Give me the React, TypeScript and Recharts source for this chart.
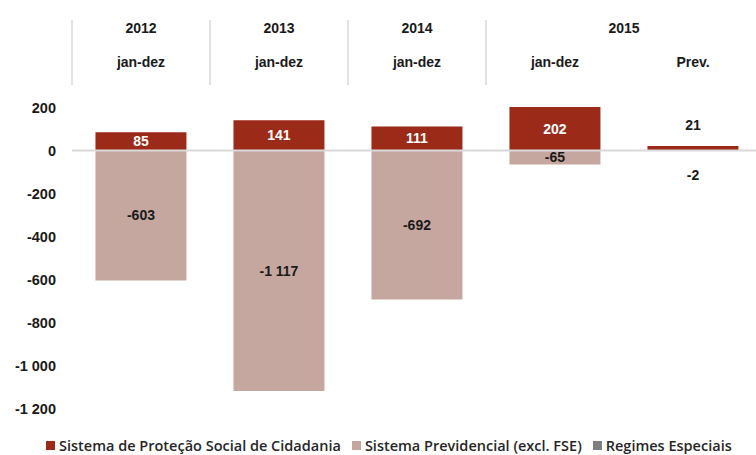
import { BarChart, Bar, XAxis, YAxis, Legend, ReferenceLine, LabelList } from 'recharts'

const categories = ['jan-dez', 'jan-dez', 'jan-dez', 'jan-dez', 'Prev.']
const years = ['2012', '2013', '2014', '2015', '2015']
const cidadania = [85, 141, 111, 202, 21]
const previdencial = [-603, -1117, -692, -65, -2]
const especiais = [0, 0, 0, 0, 0]
const yTicks = [200, 0, -200, -400, -600, -800, -1000, -1200]

const seriesNames = ['Sistema de Proteção Social de Cidadania', 'Sistema Previdencial (excl. FSE)', 'Regimes Especiais']
const COLORS = ['#9c2a18', '#c6a7a0', '#7f7f7f']

const CHART_W = 770
const CHART_H = 455
const MARGIN = { top: 17, right: 8, bottom: 0, left: 0 }
const YAXIS_W = 72
const FONT = '"Liberation Sans", Arial, sans-serif'

const BAND = (CHART_W - MARGIN.left - MARGIN.right - YAXIS_W) / categories.length

const data = categories.map((c, i) => ({
  key: i,
  cat: c,
  year: years[i],
  cidadania: cidadania[i],
  previdencial: previdencial[i],
  especiais: especiais[i],
}))

const fmt = (v: number) => {
  const s = Math.abs(Math.round(v)).toString().replace(/\B(?=(\d{3})+(?!\d))/g, ' ')
  return v < 0 ? '-' + s : s
}

function HeaderTick(props: any) {
  const { x, payload, index } = props
  const i = index ?? payload.index
  const first = i === 0 || years[i] !== years[i - 1]
  let span = 1
  while (years[i + span] === years[i]) span++
  return (
    <g>
      {first && (
        <>
          <line x1={x - BAND / 2} x2={x - BAND / 2} y1={20} y2={85} stroke="#d9d9d9" strokeWidth={1.5} />
          <text x={x + ((span - 1) * BAND) / 2} y={28} dy="0.35em" textAnchor="middle" fontFamily={FONT} fontWeight="bold" fontSize={14} fill="#1a1a1a">
            {years[i]}
          </text>
        </>
      )}
      <text x={x} y={62} dy="0.35em" textAnchor="middle" fontFamily={FONT} fontWeight="bold" fontSize={14} fill="#1a1a1a">
        {categories[i]}
      </text>
    </g>
  )
}

const makeLabel = (positive: boolean) => (props: any) => {
  const { x, y, width, height, value } = props
  if (!value) return null
  const top = Math.min(y, y + height)
  const h = Math.abs(height)
  const cx = x + width / 2
  let ty = top + h / 2
  let fill = positive ? '#ffffff' : '#1a1a1a'
  if (h < 10) {
    ty = positive ? top - 21 : top + h + 24
    fill = '#1a1a1a'
  }
  return (
    <text x={cx} y={ty} dy="0.35em" textAnchor="middle" fontFamily={FONT} fontWeight="bold" fontSize={14} fill={fill}>
      {fmt(value)}
    </text>
  )
}

function LegendContent() {
  return (
    <div style={{ height: 46, display: 'flex', alignItems: 'flex-end', paddingLeft: 46, whiteSpace: 'nowrap', fontFamily: '"Open Sans", sans-serif', fontWeight: 600, fontSize: 14.5, color: '#262626' }}>
      {seriesNames.map((n, i) => (
        <span key={n} style={{ display: 'inline-flex', alignItems: 'center', marginRight: 11, height: 20 }}>
          <span style={{ width: 9, height: 9, background: COLORS[i], display: 'inline-block', marginRight: 4 }} />
          {n}
        </span>
      ))}
    </div>
  )
}

export default function App() {
  return (
    <div style={{ position: 'absolute', left: 0, top: 0, width: 756, height: 455, overflow: 'hidden', background: '#fff' }}>
      <BarChart width={CHART_W} height={CHART_H} data={data} margin={MARGIN} stackOffset="sign" barCategoryGap="17%">
        <XAxis
          dataKey="key"
          orientation="top"
          height={90}
          axisLine={false}
          tickLine={false}
          interval={0}
          tick={<HeaderTick />}
        />
        <YAxis
          width={YAXIS_W}
          domain={[-1200, 200]}
          ticks={yTicks}
          axisLine={false}
          tickLine={false}
          tickMargin={10}
          tickFormatter={fmt}
          tick={{ fontFamily: FONT, fontWeight: 'bold', fontSize: 14.5, fill: '#1a1a1a' }}
        />
        <ReferenceLine y={0} stroke="#d9d9d9" strokeWidth={2} />
        <Bar dataKey="cidadania" name={seriesNames[0]} stackId="a" fill={COLORS[0]} isAnimationActive={false}>
          <LabelList dataKey="cidadania" content={makeLabel(true)} />
        </Bar>
        <Bar dataKey="previdencial" name={seriesNames[1]} stackId="a" fill={COLORS[1]} isAnimationActive={false}>
          <LabelList dataKey="previdencial" content={makeLabel(false)} />
        </Bar>
        <Bar dataKey="especiais" name={seriesNames[2]} stackId="a" fill={COLORS[2]} isAnimationActive={false} />
        <Legend verticalAlign="bottom" align="left" content={<LegendContent />} wrapperStyle={{ left: 0, width: 756 }} />
      </BarChart>
    </div>
  )
}
